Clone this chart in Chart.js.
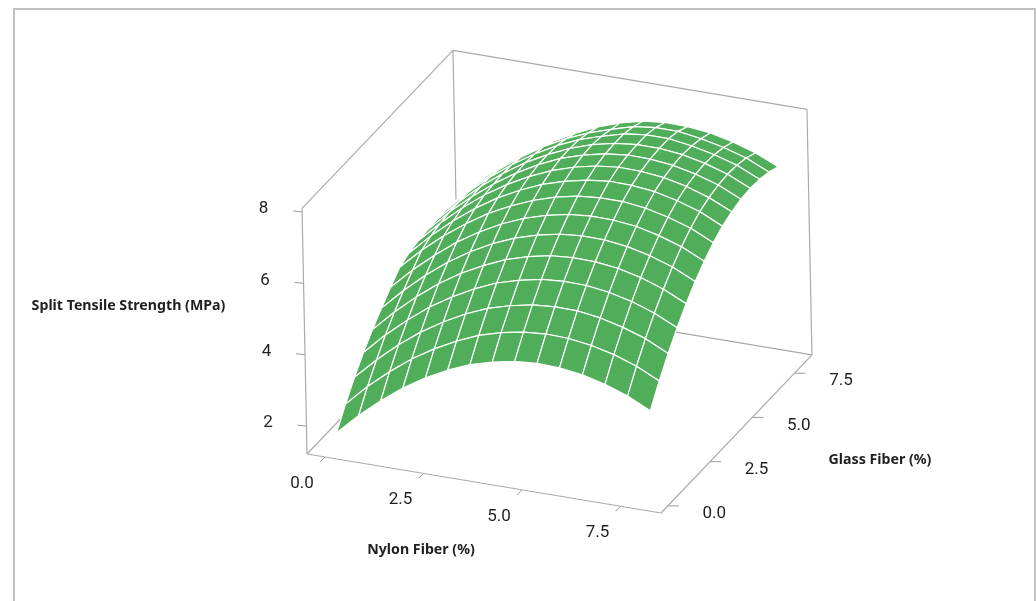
<!DOCTYPE html>
<html>
<head>
<meta charset="utf-8">
<title>Split Tensile Strength surface</title>
<script src="https://cdn.jsdelivr.net/npm/chart.js@4"></script>
<style>
  html, body { margin: 0; padding: 0; background: #fff; overflow: hidden; }
  #frame { position: absolute; left: 13px; top: 8px; width: 1019px; height: 600px;
           border: 2px solid #c2c2c2; border-bottom: none; }
  #surface { position: absolute; left: 0; top: 0; display: block; }
</style>
</head>
<body>
<div id="frame"></div>
<canvas id="surface" width="1036" height="601"></canvas>
<script>
// values
const nylonGrid = [0, 0.57, 1.14, 1.71, 2.29, 2.86, 3.43, 4, 4.57, 5.14, 5.71, 6.29, 6.86, 7.43, 8];
const glassGrid = [0.3, 0.85, 1.4, 1.95, 2.5, 3.05, 3.6, 4.15, 4.7, 5.25, 5.8, 6.35, 6.9, 7.45, 8];

// one row per glass value, one column per nylon value
const strength = [
  [1.55, 2.14, 2.66, 3.12, 3.51, 3.83, 4.09, 4.27, 4.39, 4.44, 4.42, 4.33, 4.17, 3.95, 3.64],
  [2.08, 2.68, 3.20, 3.66, 4.05, 4.37, 4.64, 4.82, 4.94, 4.99, 4.97, 4.88, 4.73, 4.51, 4.20],
  [2.56, 3.15, 3.68, 4.14, 4.53, 4.86, 5.12, 5.30, 5.43, 5.48, 5.47, 5.38, 5.22, 5.01, 4.70],
  [2.98, 3.58, 4.10, 4.57, 4.96, 5.29, 5.56, 5.74, 5.87, 5.92, 5.91, 5.82, 5.67, 5.45, 5.15],
  [3.35, 3.95, 4.48, 4.95, 5.35, 5.67, 5.94, 6.13, 6.26, 6.31, 6.30, 6.22, 6.07, 5.85, 5.55],
  [3.68, 4.28, 4.81, 5.28, 5.68, 6.01, 6.27, 6.46, 6.59, 6.65, 6.64, 6.56, 6.41, 6.20, 5.90],
  [3.99, 4.58, 5.10, 5.57, 5.96, 6.29, 6.55, 6.74, 6.87, 6.93, 6.92, 6.85, 6.70, 6.49, 6.19],
  [4.28, 4.86, 5.37, 5.81, 6.21, 6.52, 6.78, 6.98, 7.11, 7.17, 7.17, 7.09, 6.94, 6.74, 6.44],
  [4.40, 4.99, 5.51, 5.97, 6.37, 6.69, 6.96, 7.15, 7.29, 7.36, 7.35, 7.28, 7.13, 6.93, 6.63],
  [4.47, 5.07, 5.60, 6.07, 6.47, 6.80, 7.07, 7.27, 7.41, 7.48, 7.47, 7.40, 7.26, 7.05, 6.76],
  [4.50, 5.11, 5.64, 6.11, 6.52, 6.86, 7.14, 7.34, 7.48, 7.55, 7.54, 7.47, 7.33, 7.13, 6.84],
  [4.52, 5.12, 5.66, 6.13, 6.54, 6.87, 7.15, 7.36, 7.50, 7.57, 7.57, 7.50, 7.36, 7.16, 6.87],
  [4.52, 5.12, 5.65, 6.11, 6.51, 6.85, 7.12, 7.32, 7.49, 7.57, 7.57, 7.47, 7.33, 7.14, 6.85],
  [4.50, 5.08, 5.60, 6.05, 6.45, 6.77, 7.04, 7.24, 7.42, 7.50, 7.50, 7.40, 7.26, 7.07, 6.78],
  [4.47, 5.04, 5.52, 5.93, 6.32, 6.65, 6.93, 7.15, 7.30, 7.37, 7.36, 7.29, 7.14, 6.94, 6.66]
];

const nylonTicks = [0, 2.5, 5, 7.5];
const glassTicks = [0, 2.5, 5, 7.5];
const strengthTicks = [2, 4, 6, 8];

const nylonRange = [-0.457, 8.528];
const glassRange = [-0.4, 8.53];
const strengthRange = [1.22, 8.1];

const nylonTitle = "Nylon Fiber (%)";
const glassTitle = "Glass Fiber (%)";
const strengthTitle = "Split Tensile Strength (MPa)";

const GREEN = "#50ae5a";
const BOX = "#ababab";
const TICK = "#9a9a9a";
const TEXT = "#1f1f1f";

// fixed view of the cube, worked out from the corners of the box
function project(n, g, s) {
  return {
    x: 331.8 + 39.4 * n + 16.9 * g - 0.727 * (s - 1.22),
    y: 449.9 + 6.57 * n - 17.7 * g - 35.7 * (s - 1.22)
  };
}

function lineSet(points, color, width, order) {
  return {
    type: "scatter",
    data: points,
    showLine: true,
    borderColor: color,
    borderWidth: width,
    pointRadius: 0,
    tension: 0,
    fill: false,
    order: order
  };
}

const datasets = [];
const [n0, n1] = nylonRange;
const [g0, g1] = glassRange;
const [s0, s1] = strengthRange;

// 1. BOX (sits behind everything)
const boxEdges = [
  [[n0, g0, s0], [n1, g0, s0]],
  [[n1, g0, s0], [n1, g1, s0]],
  [[n1, g1, s0], [n0, g1, s0]],
  [[n0, g1, s0], [n0, g0, s0]],
  [[n0, g0, s0], [n0, g0, s1]],
  [[n0, g1, s0], [n0, g1, s1]],
  [[n1, g1, s0], [n1, g1, s1]],
  [[n0, g0, s1], [n0, g1, s1]],
  [[n0, g1, s1], [n1, g1, s1]]
];
boxEdges.forEach(edge => {
  datasets.push(lineSet(edge.map(p => project(p[0], p[1], p[2])), BOX, 1.2, 100000));
});

// 2. TICKS
nylonTicks.forEach(v => {
  const p = project(v, g0, s0);
  datasets.push(lineSet([p, { x: p.x - 5, y: p.y + 5 }], TICK, 1, 100000));
});
glassTicks.forEach(v => {
  const p = project(n1, v, s0);
  datasets.push(lineSet([p, { x: p.x + 11, y: p.y }], TICK, 1, 100000));
});
strengthTicks.forEach(v => {
  const p = project(n0, g0, v);
  datasets.push(lineSet([p, { x: p.x - 9, y: p.y - 1 }], TICK, 1, 100000));
});

// 3. SURFACE - back rows first so the near cells paint over the far ones
let cellOrder = 50000;
for (let j = glassGrid.length - 2; j >= 0; j--) {
  for (let i = 0; i < nylonGrid.length - 1; i++) {
    const corners = [
      project(nylonGrid[i], glassGrid[j], strength[j][i]),
      project(nylonGrid[i + 1], glassGrid[j], strength[j][i + 1]),
      project(nylonGrid[i + 1], glassGrid[j + 1], strength[j + 1][i + 1]),
      project(nylonGrid[i], glassGrid[j + 1], strength[j + 1][i])
    ];
    corners.push(corners[0]);
    const cell = lineSet(corners, "#ffffff", 1.2, cellOrder--);
    cell.fill = "shape";
    cell.backgroundColor = GREEN;
    datasets.push(cell);
  }
}

// axis text has no place in a hidden scale, so it goes on with a small plugin
const axisText = {
  id: "axisText",
  afterDraw(chart) {
    const ctx = chart.ctx;
    const sx = chart.scales.x;
    const sy = chart.scales.y;
    const put = (text, x, y) => ctx.fillText(text, sx.getPixelForValue(x), sy.getPixelForValue(y));

    ctx.save();
    ctx.fillStyle = TEXT;
    ctx.textAlign = "center";
    ctx.textBaseline = "middle";

    ctx.font = "17px Roboto";
    nylonTicks.forEach(v => {
      const p = project(v, g0, s0);
      put(v.toFixed(1), p.x - 23, p.y + 26.5);
    });
    glassTicks.forEach(v => {
      const p = project(n1, v, s0);
      put(v.toFixed(1), p.x + 46.5, p.y + 8);
    });
    strengthTicks.forEach(v => {
      const p = project(n0, g0, v);
      put(String(v), p.x - 38.5, p.y - 3);
    });

    ctx.font = "bold 14.2px 'Noto Sans'";
    put(nylonTitle, 421, 550);
    put(glassTitle, 880, 460);
    put(strengthTitle, 128.5, 306);
    ctx.restore();
  }
};

new Chart(document.getElementById("surface"), {
  type: "scatter",
  data: { datasets: datasets },
  options: {
    responsive: false,
    animation: false,
    layout: { padding: 0 },
    events: [],
    scales: {
      x: { type: "linear", display: false, min: 0, max: 1036 },
      y: { type: "linear", display: false, min: 0, max: 601, reverse: true }
    },
    plugins: { legend: { display: false }, tooltip: { enabled: false } }
  },
  plugins: [axisText]
});
</script>
</body>
</html>
